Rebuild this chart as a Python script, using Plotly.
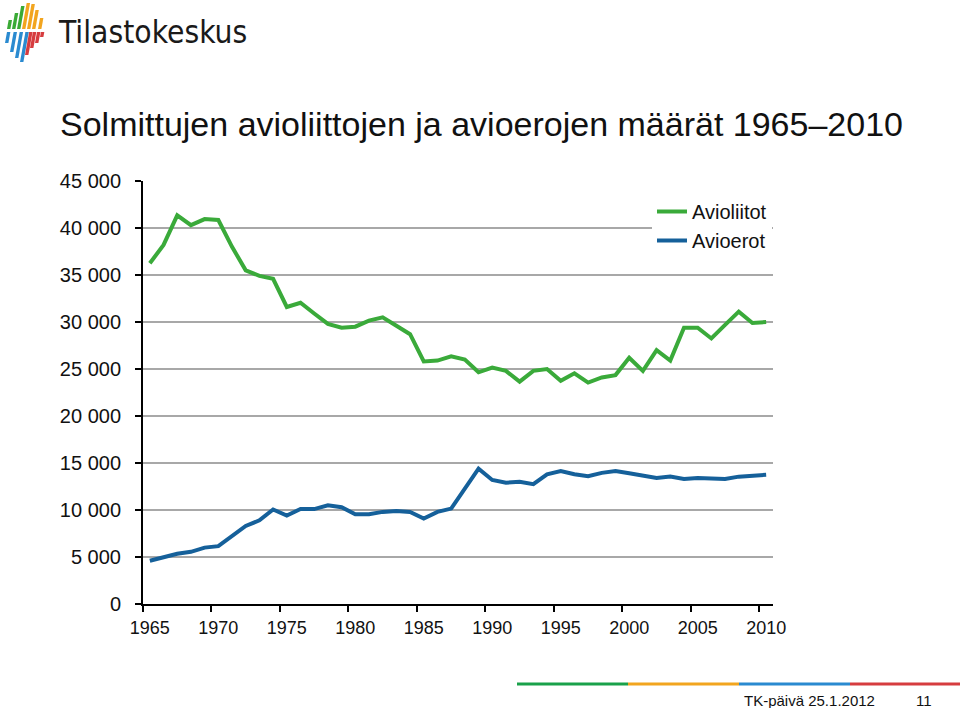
import plotly.graph_objects as go

# ---------------- data ----------------
years = [1965, 1966, 1967, 1968, 1969, 1970, 1971, 1972, 1973, 1974,
         1975, 1976, 1977, 1978, 1979, 1980, 1981, 1982, 1983, 1984,
         1985, 1986, 1987, 1988, 1989, 1990, 1991, 1992, 1993, 1994,
         1995, 1996, 1997, 1998, 1999, 2000, 2001, 2002, 2003, 2004,
         2005, 2006, 2007, 2008, 2009, 2010]

avioliitot = [36250, 38200, 41350, 40300, 40950, 40850, 38000, 35500, 34900, 34600,
              31600, 32050, 30900, 29800, 29400, 29500, 30150, 30500, 29600, 28700,
              25800, 25900, 26350, 26000, 24650, 25150, 24800, 23650, 24800, 25000,
              23750, 24550, 23550, 24100, 24350, 26200, 24800, 27000, 25900, 29400,
              29400, 28250, 29700, 31100, 29900, 30000]

avioerot = [4600, 5000, 5350, 5550, 6000, 6150, 7200, 8300, 8900, 10050,
            9400, 10100, 10100, 10500, 10300, 9550, 9550, 9800, 9900, 9800,
            9100, 9800, 10150, 12300, 14400, 13200, 12900, 13000, 12750, 13800,
            14150, 13800, 13600, 13950, 14150, 13900, 13600, 13400, 13550, 13300,
            13400, 13300, 13300, 13550, 13650, 13750]

x_tick_years = [1965, 1970, 1975, 1980, 1985, 1990, 1995, 2000, 2005, 2010]
x_tick_labels = ["1965", "1970", "1975", "1980", "1985", "1990", "1995", "2000", "2005", "2010"]
y_tick_vals = [0, 5000, 10000, 15000, 20000, 25000, 30000, 35000, 40000, 45000]
y_tick_labels = ["0", "5 000", "10 000", "15 000", "20 000", "25 000", "30 000",
                 "35 000", "40 000", "45 000"]

title_text = "Solmittujen avioliittojen ja avioerojen määrät 1965\u20132010"

# ---------------- layout geometry (pixels) ----------------
W, H = 960, 708
L, R, T, B = 143, 773, 181, 604


def px(x):
    return (x - L) / (R - L)


def py(y):
    return (B - y) / (B - T)


GREEN = "#3aaa3a"
BLUE = "#15609a"
FONT = "Liberation Sans, Arial, sans-serif"

fig = go.Figure()
fig.add_trace(go.Scatter(x=years, y=avioliitot, mode="lines", name="Avioliitot",
                         line=dict(color=GREEN, width=4), xaxis="x", yaxis="y"))
fig.add_trace(go.Scatter(x=years, y=avioerot, mode="lines", name="Avioerot",
                         line=dict(color=BLUE, width=4), xaxis="x", yaxis="y"))
# helper invisible trace so the boundary-tick axis is drawn
fig.add_trace(go.Scatter(x=years, y=avioerot, mode="lines", showlegend=False,
                         hoverinfo="skip", opacity=0, line=dict(width=0),
                         xaxis="x2", yaxis="y"))

shapes = []
# logo strips (decorative)
top_strips = [(7, 20, "#3aaa35"), (12, 13, "#3aaa35"), (17, 6, "#3aaa35"),
              (22, 3, "#f2a51f"), (27, 4, "#f2a51f"), (32, 10, "#f2a51f"), (38, 18, "#f2a51f")]
bot_strips = [(5, 43, "#2a8ad0"), (10, 52, "#2a8ad0"), (15, 58, "#2a8ad0"), (20, 62, "#2a8ad0"),
              (25, 55, "#d63c3f"), (30, 48, "#d63c3f"), (35, 43, "#d63c3f"), (40, 37, "#d63c3f")]
slant = 0.18
sw = 3.4
for x0, ytop, col in top_strips:
    yb = 29
    dx = (yb - ytop) * slant
    path = (f"M {px(x0)} {py(yb)} L {px(x0 + sw)} {py(yb)} "
            f"L {px(x0 + sw + dx)} {py(ytop)} L {px(x0 + dx)} {py(ytop)} Z")
    shapes.append(dict(type="path", path=path, xref="paper", yref="paper",
                       fillcolor=col, line=dict(width=0), layer="above"))
for x0, ybot, col in bot_strips:
    yt = 32
    dx = (ybot - yt) * slant
    path = (f"M {px(x0 + dx)} {py(yt)} L {px(x0 + dx + sw)} {py(yt)} "
            f"L {px(x0 + sw)} {py(ybot)} L {px(x0)} {py(ybot)} Z")
    shapes.append(dict(type="path", path=path, xref="paper", yref="paper",
                       fillcolor=col, line=dict(width=0), layer="above"))

# footer colour band
band = [(517, 628, "#1aa14a"), (628, 739, "#f2a51f"), (739, 850, "#2a8ad0"), (850, 960, "#d63c3f")]
for a, b, col in band:
    shapes.append(dict(type="rect", xref="paper", yref="paper",
                       x0=px(a), x1=px(b), y0=py(685.5), y1=py(682.5),
                       fillcolor=col, line=dict(width=0)))

annotations = [
    dict(text=title_text, xref="paper", yref="paper", x=px(58), y=py(124),
         xanchor="left", yanchor="middle", showarrow=False,
         font=dict(family=FONT, size=34, color="#111111")),
    dict(text="Tilastokeskus", xref="paper", yref="paper", x=px(56), y=py(32),
         xanchor="left", yanchor="middle", showarrow=False,
         font=dict(family="DejaVu Sans Condensed, DejaVu Sans, sans-serif",
                   size=31.5, color="#1a1a1a")),
    dict(text="TK-päivä 25.1.2012", xref="paper", yref="paper", x=px(809), y=py(700),
         xanchor="center", yanchor="middle", showarrow=False,
         font=dict(family=FONT, size=15, color="#111111")),
    dict(text="11", xref="paper", yref="paper", x=px(924), y=py(700),
         xanchor="center", yanchor="middle", showarrow=False,
         font=dict(family=FONT, size=15, color="#111111")),
]

fig.update_layout(
    width=W, height=H,
    margin=dict(l=L, r=W - R, t=T, b=H - B, pad=0),
    paper_bgcolor="white", plot_bgcolor="white",
    font=dict(family=FONT, color="#111111"),
    showlegend=True,
    legend=dict(x=px(652), y=py(192), xanchor="left", yanchor="top",
                bgcolor="white", borderwidth=0,
                font=dict(family=FONT, size=20, color="#111111"),
                tracegroupgap=0),
    xaxis=dict(range=[1964.5, 2010.5], tickvals=x_tick_years, ticktext=x_tick_labels,
               ticks="outside", ticklen=6, tickcolor="rgba(0,0,0,0)",
               showline=True, linecolor="black", linewidth=2,
               showgrid=False, zeroline=False,
               tickfont=dict(family=FONT, size=18, color="#111111")),
    xaxis2=dict(range=[1964.5, 2010.5], overlaying="x", anchor="y", side="bottom",
                tickvals=[1964.5, 1969.5, 1974.5, 1979.5, 1984.5, 1989.5, 1994.5,
                          1999.5, 2004.5, 2009.5],
                ticks="outside", ticklen=7, tickwidth=2, tickcolor="black",
                showticklabels=False, showline=False, showgrid=False, zeroline=False),
    yaxis=dict(range=[0, 45000], tickvals=y_tick_vals, ticktext=y_tick_labels,
               ticks="outside", ticklen=6, tickwidth=2, tickcolor="black",
               showline=True, linecolor="black", linewidth=2,
               showgrid=True, gridcolor="#a8a8a8", gridwidth=1.5, zeroline=False,
               ticklabelstandoff=10,
               tickfont=dict(family=FONT, size=20, color="#111111")),
    shapes=shapes,
    annotations=annotations,
)

fig.write_html("out.html")
